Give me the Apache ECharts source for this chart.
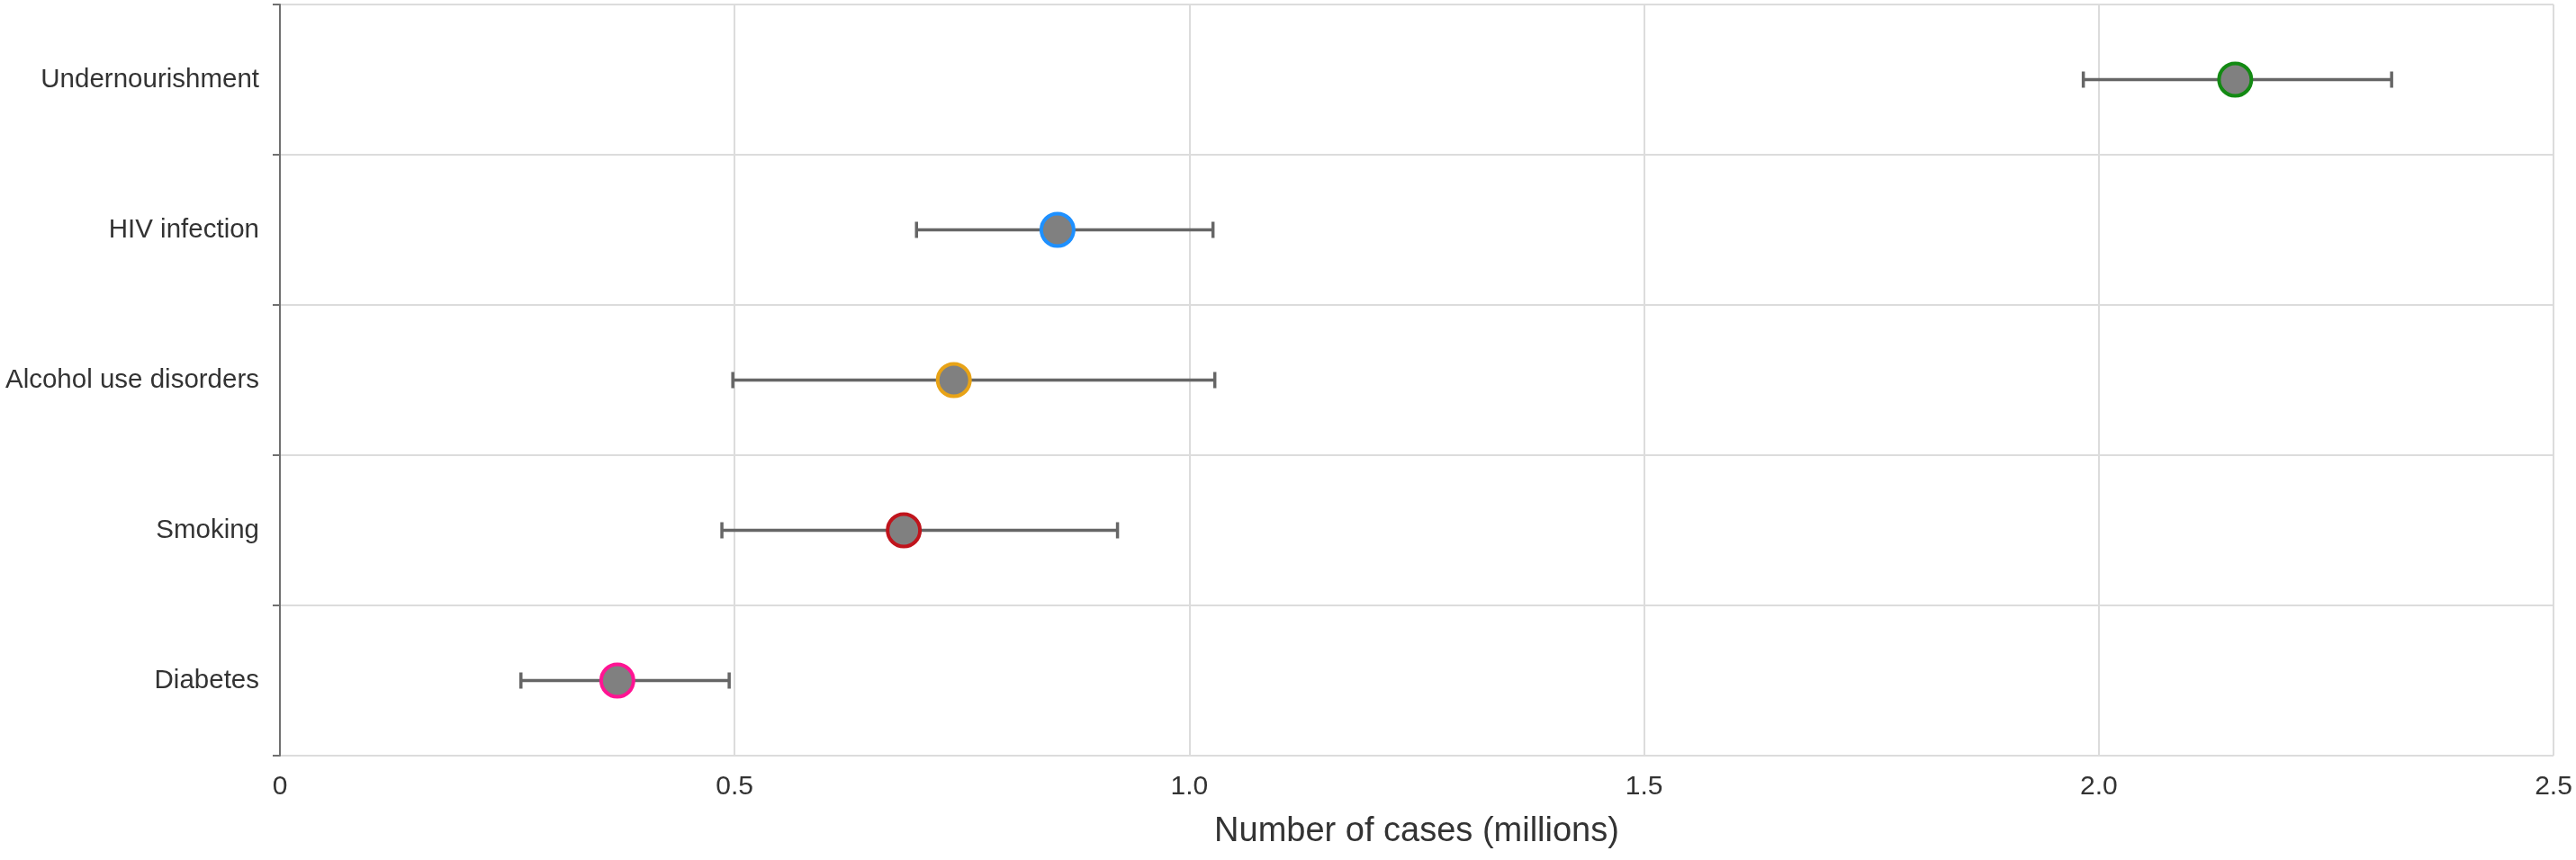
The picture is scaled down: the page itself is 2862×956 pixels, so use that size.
<!DOCTYPE html>
<html>
<head>
<meta charset="utf-8">
<script src="https://cdn.jsdelivr.net/npm/echarts@6/dist/echarts.min.js"></script>
<style>
html,body{margin:0;padding:0;background:#fff;}
#chart{width:2862px;height:956px;}
</style>
</head>
<body>
<div id="chart"></div>
<script>
// Categories listed top to bottom
var categories = ['Undernourishment', 'HIV infection', 'Alcohol use disorders', 'Smoking', 'Diabetes'];
// Point estimates (millions)
var estimates = [2.150, 0.855, 0.741, 0.686, 0.371];
// Lower and upper bounds (millions)
var lowerBounds = [1.983, 0.700, 0.498, 0.486, 0.265];
var upperBounds = [2.322, 1.026, 1.028, 0.921, 0.494];
// Marker outline colours
var outlineColors = ['#138a13', '#1e90ff', '#e8a317', '#c0141c', '#ff1493'];
// X tick labels
var xTickLabels = ['0', '0.5', '1.0', '1.5', '2.0', '2.5'];
var xAxisTitle = 'Number of cases (millions)';

var errorData = categories.map(function (c, i) { return [i, lowerBounds[i], upperBounds[i]]; });
var pointData = categories.map(function (c, i) {
  return { value: [estimates[i], i], itemStyle: { borderColor: outlineColors[i] } };
});

var FONT = 'Liberation Sans, Arial, sans-serif';
var chart = echarts.init(document.getElementById('chart'), null, { renderer: 'canvas' });
chart.setOption({
  backgroundColor: '#ffffff',
  animation: false,
  grid: { left: 311, right: 25, top: 5, bottom: 116, containLabel: false },
  xAxis: {
    type: 'value',
    min: 0, max: 2.5, interval: 0.5,
    name: xAxisTitle,
    nameLocation: 'middle',
    nameGap: 66,
    nameTextStyle: { fontFamily: FONT, fontSize: 38, color: '#333', verticalAlign: 'top' },
    axisLine: { show: false },
    axisTick: { show: false },
    axisLabel: {
      fontFamily: FONT, fontSize: 30, color: '#333', margin: 20,
      formatter: function (v) { var k = Math.round(v / 0.5); return xTickLabels[k]; }
    },
    splitLine: { show: true, lineStyle: { color: '#dcdcdc', width: 2 } }
  },
  yAxis: {
    type: 'category',
    data: categories,
    inverse: true,
    boundaryGap: true,
    axisLine: { show: true, lineStyle: { color: '#707070', width: 2 } },
    axisTick: { show: true, length: 8, lineStyle: { color: '#707070', width: 2 } },
    axisLabel: { fontFamily: FONT, fontSize: 29.5, color: '#333', margin: 23 },
    splitLine: { show: true, lineStyle: { color: '#dcdcdc', width: 2 } }
  },
  series: [
    {
      type: 'custom',
      data: errorData,
      encode: { x: [1, 2], y: 0 },
      z: 2,
      renderItem: function (params, api) {
        var cat = api.value(0);
        var lo = api.coord([api.value(1), cat]);
        var hi = api.coord([api.value(2), cat]);
        var h = 9;
        var style = { stroke: '#666666', lineWidth: 3.5 };
        return {
          type: 'group',
          children: [
            { type: 'line', shape: { x1: lo[0], y1: lo[1], x2: hi[0], y2: hi[1] }, style: style },
            { type: 'line', shape: { x1: lo[0], y1: lo[1] - h, x2: lo[0], y2: lo[1] + h }, style: style },
            { type: 'line', shape: { x1: hi[0], y1: hi[1] - h, x2: hi[0], y2: hi[1] + h }, style: style }
          ]
        };
      }
    },
    {
      type: 'scatter',
      data: pointData,
      symbol: 'circle',
      symbolSize: 36,
      z: 3,
      itemStyle: { color: '#808080', borderWidth: 4, opacity: 1 }
    }
  ]
});
</script>
</body>
</html>
